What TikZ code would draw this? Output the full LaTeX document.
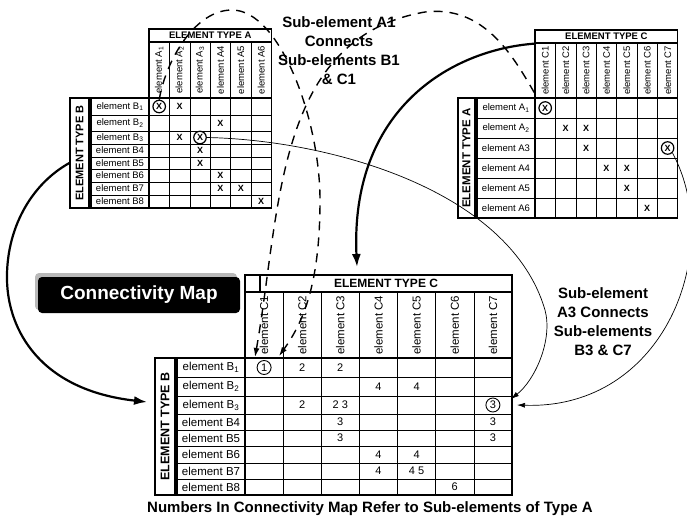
\documentclass[tikz,border=0pt]{standalone}
\usepackage{fontspec}
\setmainfont{Liberation Sans}
\usetikzlibrary{arrows.meta}

\tikzset{
  frame/.style={draw, line width=1.3pt},
  gridline/.style={line width=0.6pt},
  typebox/.style={frame, inner sep=0pt, rotate=90, font=\bfseries\fontsize{11}{12}\selectfont},
  headbox/.style={frame, inner sep=0pt, font=\bfseries\fontsize{9.5}{10}\selectfont},
  smalllbl/.style={inner sep=0pt, font=\fontsize{9.5}{10}\selectfont},
  biglbl/.style={inner sep=0pt, font=\fontsize{11.5}{12}\selectfont},
  xmark/.style={inner sep=0pt, font=\bfseries\fontsize{9}{9}\selectfont},
  numlbl/.style={inner sep=0pt, font=\fontsize{11}{11}\selectfont},
  ring/.style={draw, circle, line width=1.2pt, inner sep=0pt, minimum size=12.5pt},
  note/.style={align=center, font=\bfseries\fontsize{15}{19}\selectfont},
  link/.style={line width=0.7pt, -{Latex[length=8pt,width=5pt]}},
  bigarrow/.style={line width=2.2pt, -{Latex[length=13pt,width=9pt]}},
  dashlink/.style={line width=1.4pt, dash pattern=on 9pt off 7pt, -{Latex[length=9pt,width=6pt]}},
}

\begin{document}
\begin{tikzpicture}[x=1pt, y=-1pt]
\useasboundingbox (0,0) rectangle (687,522);

% top left: type B against type A
\node[headbox, minimum width=122.4pt, minimum height=13pt] (tlH) at (210.2,35.5) {ELEMENT TYPE A};
\draw[frame] (149,42) rectangle (271.4,208);
\draw[frame] (149,98) -- (271.4,98);
\draw[frame] (91,98) rectangle (149,208);
\foreach \x in {169.4,189.8,210.2,230.6,251} \draw[gridline] (\x,42) -- (\x,208);
\foreach \y in {115,131,144,157,169,182,195} \draw[gridline] (91,\y) -- (271.4,\y);
\node[typebox, minimum width=110pt, minimum height=19pt] (tlB) at (79.5,153) {ELEMENT TYPE B};
\foreach \x/\t [count=\i] in {159.2/A\textsubscript{1}, 179.6/A\textsubscript{2}, 200/A\textsubscript{3}, 220.4/A4, 240.8/A5, 261.2/A6}
  \node[smalllbl, rotate=90] (tlcol\i) at (\x,70) {element \t};
\foreach \y/\t [count=\i] in {106.5/B\textsubscript{1}, 123/B\textsubscript{2}, 137.5/B\textsubscript{3}, 150.5/B4, 163/B5, 175.5/B6, 188.5/B7, 201.5/B8}
  \node[smalllbl] (tlrow\i) at (120,\y) {element \t};
\node[xmark, ring] (tlc11) at (159.2,106.5) {X};
\node[xmark, ring] (tlc33) at (200,137.5) {X};
\foreach \x/\y/\n in {179.6/106.5/12, 220.4/123/24, 179.6/137.5/32, 200/150.5/43, 200/163/53, 220.4/175.5/64, 220.4/188.5/74, 240.8/188.5/75, 261.2/201.5/86}
  \node[xmark] (tlx\n) at (\x,\y) {X};

% top right: type A against type C
\node[headbox, minimum width=142.8pt, minimum height=13pt] (trH) at (606.4,36.5) {ELEMENT TYPE C};
\draw[frame] (535,43) rectangle (677.8,218);
\draw[frame] (535,98) -- (677.8,98);
\draw[frame] (477,98) rectangle (535,218);
\foreach \x in {555.4,575.8,596.2,616.6,637,657.4} \draw[gridline] (\x,43) -- (\x,218);
\foreach \y in {118,138,158,178,198} \draw[gridline] (477,\y) -- (677.8,\y);
\node[typebox, font=\bfseries\fontsize{11.5}{12}\selectfont, minimum width=120pt, minimum height=17pt] (trA) at (466.5,158) {ELEMENT TYPE A};
\foreach \x [count=\i] in {545.2,565.6,586,606.4,626.8,647.2,667.6}
  \node[smalllbl, rotate=90] (trcol\i) at (\x,70.5) {element C\i};
\foreach \y/\t [count=\i] in {108/A\textsubscript{1}, 128/A\textsubscript{2}, 148/A3, 168/A4, 188/A5, 208/A6}
  \node[smalllbl] (trrow\i) at (506,\y) {element \t};
\node[xmark, ring] (trc11) at (545.2,108) {X};
\node[xmark, ring] (trc37) at (667.6,148) {X};
\foreach \x/\y/\n in {565.6/128/22, 586/128/23, 586/148/33, 606.4/168/44, 626.8/168/45, 626.8/188/55, 647.2/208/66}
  \node[xmark] (trx\n) at (\x,\y) {X};

% connectivity map: type B against type C
\node[headbox, font=\bfseries\fontsize{12}{13}\selectfont, minimum width=252pt, minimum height=17pt] (bmH) at (386,283.5) {ELEMENT TYPE C};
\node[frame, inner sep=0pt, minimum width=15pt, minimum height=17pt] (bmHs) at (252.5,283.5) {};
\draw[frame] (245,292) rectangle (512,495);
\draw[frame] (245,358) -- (512,358);
\draw[frame] (177,358) rectangle (245,495);
\foreach \x in {283.1,321.3,359.4,397.6,435.7,473.9} \draw[gridline] (\x,292) -- (\x,495);
\foreach \y in {377,396,414,430,446,463,479} \draw[gridline] (177,\y) -- (512,\y);
\node[typebox, font=\bfseries\fontsize{12.5}{13}\selectfont, minimum width=137pt, minimum height=20pt] (bmB) at (165,426.5) {ELEMENT TYPE B};
\foreach \x [count=\i] in {264.1,302.2,340.3,378.5,416.6,454.8,492.9}
  \node[biglbl, rotate=90] (bmcol\i) at (\x,325) {element C\i};
\foreach \y/\t [count=\i] in {367.5/B\textsubscript{1}, 386.5/B\textsubscript{2}, 405/B\textsubscript{3}, 422/B4, 438/B5, 454.5/B6, 471/B7, 487/B8}
  \node[biglbl] (bmrow\i) at (211,\y) {element \t};
\node[numlbl, ring, line width=0.9pt, minimum size=14pt] (bmc11) at (264.1,367.5) {1};
\node[numlbl, ring, line width=0.9pt, minimum size=14pt] (bmc37) at (492.9,405) {3};
\foreach \x/\y/\t/\n in {302.2/367.5/2/12, 340.3/367.5/2/13, 378.5/386.5/4/24, 416.6/386.5/4/25,
    302.2/405/2/32, 340.3/405/2 3/33, 340.3/422/3/43, 492.9/422/3/47, 340.3/438/3/53, 492.9/438/3/57,
    378.5/454.5/4/64, 416.6/454.5/4/65, 378.5/471/4/74, 416.6/471/4 5/75, 454.8/487/6/86}
  \node[numlbl] (bmn\n) at (\x,\y) {\t};

% title box
\fill[gray!55, rounded corners=4pt] (35,273) rectangle (237,310);
\node[fill=black, rounded corners=4pt, minimum width=202pt, minimum height=36pt, text=white, font=\bfseries\fontsize{19}{20}\selectfont] (cmap) at (139,295) {Connectivity Map};

% notes
\node[note] (noteA) at (339,51) {Sub-element A1\\Connects\\Sub-elements B1\\\& C1};
\node[note] (noteB) at (603,322) {Sub-element\\A3 Connects\\Sub-elements\\B3 \& C7};
\node[font=\bfseries\fontsize{15}{16}\selectfont] (caption) at (370,509) {Numbers In Connectivity Map Refer to Sub-elements of Type A};

% free ends and bends
\coordinate (topA) at (232,10);
\coordinate (midA) at (320,200);
\coordinate (tipB1) at (279,356);
\coordinate (topC) at (425,12);
\coordinate (tipC1) at (255,357);
\coordinate (loopB) at (7,280);
\coordinate (tipB) at (147,402);
\coordinate (tipC) at (357,267);
\coordinate (bendA3) at (545,310);
\coordinate (tipB3) at (511,399);
\coordinate (tipC7) at (517,405);

% connectors
\draw[dashlink] (tlc11.north) .. controls (166,60) and (195,10) .. (topA) .. controls (280,10) and (320,120) .. (midA) .. controls (320,280) and (305,320) .. (tipB1);
\draw[dashlink, shorten <=12pt] (trc11.north west) .. controls (512,54) and (483,5) .. (topC) .. controls (275,38) and (281,209) .. (tipC1);
\draw[bigarrow] ([yshift=-10pt]tlB.north) .. controls (30,185) and (6,230) .. (loopB) .. controls (8,330) and (40,390) .. (tipB);
\draw[bigarrow] (trH.south west) .. controls (450,50) and (350,110) .. (tipC);
\draw[link] (tlc33.east) .. controls (330,140) and (510,190) .. (bendA3) .. controls (553,340) and (535,380) .. (tipB3);
\draw[link] (trc37.south east) .. controls (725,250) and (665,410) .. (tipC7);
\end{tikzpicture}
\end{document}
